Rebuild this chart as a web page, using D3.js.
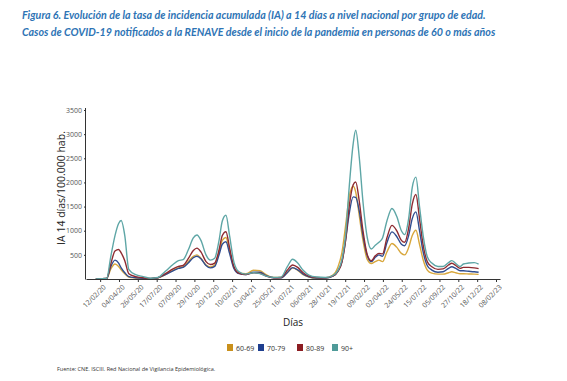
<!DOCTYPE html>
<html>
<head>
<meta charset="utf-8">
<script src="https://cdn.jsdelivr.net/npm/d3@7"></script>
<style>
  body { margin: 0; background: #fff; }
  svg { display: block; }
</style>
</head>
<body>
<div id="chart"></div>
<script>
(function () {
	'use strict';

	// fechas de cada punto (IA 14 días, por 100.000 hab.)
	var dates = [
		"2020-01-31","2020-03-01","2020-03-12","2020-03-24","2020-04-03","2020-04-10","2020-04-20","2020-05-01",
		"2020-05-20","2020-06-10","2020-07-01","2020-07-20","2020-08-10","2020-08-31","2020-09-15","2020-09-28",
		"2020-10-12","2020-10-26","2020-11-05","2020-11-16","2020-11-30","2020-12-12","2020-12-24","2021-01-05",
		"2021-01-14","2021-01-24","2021-02-03","2021-02-15","2021-03-01","2021-03-20","2021-04-10","2021-04-28",
		"2021-05-15","2021-06-05","2021-06-25","2021-07-12","2021-07-27","2021-08-10","2021-08-25","2021-09-10",
		"2021-10-01","2021-10-25","2021-11-15","2021-11-29","2021-12-10","2021-12-20","2021-12-30","2022-01-10",
		"2022-01-17","2022-01-27","2022-02-06","2022-02-18","2022-03-01","2022-03-12","2022-03-22","2022-04-01",
		"2022-04-13","2022-04-27","2022-05-10","2022-05-23","2022-06-01","2022-06-12","2022-06-22","2022-07-02",
		"2022-07-12","2022-07-22","2022-08-03","2022-08-15","2022-09-01","2022-09-15","2022-09-30","2022-10-09",
		"2022-10-20","2022-11-01","2022-11-10","2022-11-25","2022-12-10","2022-12-22"
	];

	var ia60 = [0,10,200,310,260,190,110,40, 20,10,8,25,90,180,230,250, 360,470,500,430,290,250,290,560,
		800,860,580,240,120,110,180,170, 90,30,30,130,230,180,90,40, 15,20,80,250,550,1100,1700,1920,
		1800,1300,800,400,320,360,390,360, 560,735,660,530,500,650,900,1010, 720,400,180,120,100,100,130,150,
		130,110,110,105,100,95];
	var ia70 = [0,10,250,390,330,230,130,50, 25,12,8,25,90,170,220,240, 330,440,470,420,280,230,260,500,
		720,770,530,220,110,90,140,140, 70,25,25,130,235,190,100,45, 20,20,60,170,360,800,1350,1700,
		1690,1400,900,480,360,450,500,470, 750,975,880,720,690,900,1250,1390, 1000,560,270,185,140,150,220,255,
		220,170,170,160,150,140];
	var ia80 = [0,10,300,580,610,540,380,110, 50,25,10,25,110,210,260,280, 420,590,640,560,360,300,330,600,
		900,980,650,260,120,90,130,120, 60,25,30,180,290,240,130,60, 30,25,60,160,350,800,1500,1950,
		2010,1600,1000,500,380,480,530,520, 850,1110,1000,800,760,1050,1550,1750, 1250,700,350,255,200,210,290,325,
		280,220,240,240,230,215];
	var ia90 = [0,10,450,900,1150,1210,900,200, 90,50,15,30,160,300,380,400, 600,850,910,800,500,390,430,800,
		1200,1320,900,350,150,100,130,110, 60,30,40,250,410,330,180,80, 40,30,70,180,400,900,1900,2800,
		3080,2500,1600,850,620,700,760,850, 1200,1460,1300,1000,920,1250,1900,2110, 1500,900,450,330,260,260,340,380,
		320,260,310,330,340,310];

	var groups = ["60-69", "70-79", "80-89", "90+"];
	var lineColors = ["#D8A73C", "#2F4D90", "#8E2B31", "#5EA6A6"];
	var keyColors = ["#C9901C", "#1F3F8F", "#8C1D22", "#4F9B99"];

	var tickDates = ["2020-02-12","2020-04-04","2020-05-26","2020-07-17","2020-09-07","2020-10-29","2020-12-20",
		"2021-02-10","2021-04-03","2021-05-25","2021-07-16","2021-09-06","2021-10-28","2021-12-19",
		"2022-02-09","2022-04-02","2022-05-24","2022-07-15","2022-09-05","2022-10-27","2022-12-18","2023-02-08"];
	var yTicks = [500, 1000, 1500, 2000, 2500, 3000, 3500];

	var width = 567, height = 381;
	var parse = d3.utcParse("%Y-%m-%d");
	var fmt = d3.utcFormat("%d/%m/%y");

	var svg = d3.select("#chart").append("svg")
		.attr("width", width)
		.attr("height", height);

	// titulo: mismo tamaño de letra en las dos líneas, ajustado al ancho de la figura
	var titleColor = "#2E74B5";
	var titleLines = [
		"Figura 6. Evolución de la tasa de incidencia acumulada (IA) a 14 días a nivel nacional por grupo de edad.",
		"Casos de COVID-19 notificados a la RENAVE desde el inicio de la pandemia en personas de 60 o más años"
	];
	var titleWidths = [486, 451];
	var titles = svg.append("g").selectAll("text")
		.data(titleLines)
		.enter().append("text")
		.attr("x", 22)
		.attr("y", function (d, i) { return 19 + i * 17; })
		.style("font-family", "Lato, sans-serif")
		.style("font-style", "italic").style("font-weight", "bold")
		.style("font-size", "12px")
		.style("fill", titleColor)
		.text(function (d) { return d; });
	var sizes = [];
	titles.each(function (d, i) {
		var w = this.getComputedTextLength();
		if (w > 0) sizes.push(12 * titleWidths[i] / w);
	});
	if (sizes.length) titles.style("font-size", d3.mean(sizes).toFixed(2) + "px");

	var x = d3.scaleUtc()
		.domain([parse("2020-01-04"), parse("2023-02-19")])
		.range([86, 500]);
	var y = d3.scaleLinear()
		.domain([0, 3500])
		.range([279, 110]);

	var series = [ia60, ia70, ia80, ia90];
	var line = d3.line()
		.x(function (d) { return x(d.date); })
		.y(function (d) { return y(d.value); })
		.curve(d3.curveMonotoneX);

	svg.append("g").selectAll("path")
		.data(series)
		.enter().append("path")
		.attr("fill", "none")
		.attr("stroke", function (d, i) { return lineColors[i]; })
		.attr("stroke-width", 1.4)
		.attr("d", function (vals) {
			return line(vals.map(function (v, i) { return { date: parse(dates[i]), value: v }; }));
		});

	// ejes
	var yAxis = svg.append("g")
		.attr("transform", "translate(86,0)")
		.call(d3.axisLeft(y).tickValues(yTicks).tickFormat(d3.format("d")).tickSize(2).tickPadding(2));
	yAxis.select(".domain").attr("d", "M-0.5,108V279.5").attr("stroke", "#333");
	yAxis.selectAll("text").style("font", "7px 'Open Sans', sans-serif").style("fill", "#555");
	yAxis.selectAll("line").attr("stroke", "#333");

	var xAxis = svg.append("g")
		.attr("transform", "translate(0,279)")
		.call(d3.axisBottom(x).tickValues(tickDates.map(parse)).tickFormat(fmt).tickSize(3).tickSizeOuter(0));
	xAxis.select(".domain").attr("stroke", "#333");
	xAxis.selectAll("line").attr("stroke", "#333");
	xAxis.selectAll("text")
		.style("font", "7px 'Open Sans', sans-serif")
		.style("fill", "#555")
		.attr("text-anchor", "end")
		.attr("dx", "-0.3em")
		.attr("dy", "0.6em")
		.attr("transform", "rotate(-45)");

	svg.append("text")
		.attr("transform", "translate(65,188) rotate(-90)")
		.attr("text-anchor", "middle")
		.style("font", "10.5px 'Open Sans', sans-serif")
		.style("fill", "#222")
		.text("IA 14 días/100.000 hab.");

	svg.append("text")
		.attr("x", 293).attr("y", 326)
		.attr("text-anchor", "middle")
		.style("font", "10px 'Open Sans', sans-serif")
		.style("fill", "#222")
		.text("Días");

	// leyenda
	var keyX = [227, 258, 297, 332];
	var key = svg.append("g").selectAll("g")
		.data(groups)
		.enter().append("g")
		.attr("transform", function (d, i) { return "translate(" + keyX[i] + ",344)"; });
	key.append("rect")
		.attr("width", 6).attr("height", 7)
		.attr("fill", function (d, i) { return keyColors[i]; });
	key.append("text")
		.attr("x", 9).attr("y", 6.5)
		.style("font", "7px 'Open Sans', sans-serif")
		.style("fill", "#333")
		.text(function (d) { return d; });

	svg.append("text")
		.attr("x", 57).attr("y", 371)
		.style("font", "5.5px 'Open Sans', sans-serif")
		.style("fill", "#333")
		.text("Fuente: CNE. ISCIII. Red Nacional de Vigilancia Epidemiológica.");
}());
</script>
</body>
</html>
